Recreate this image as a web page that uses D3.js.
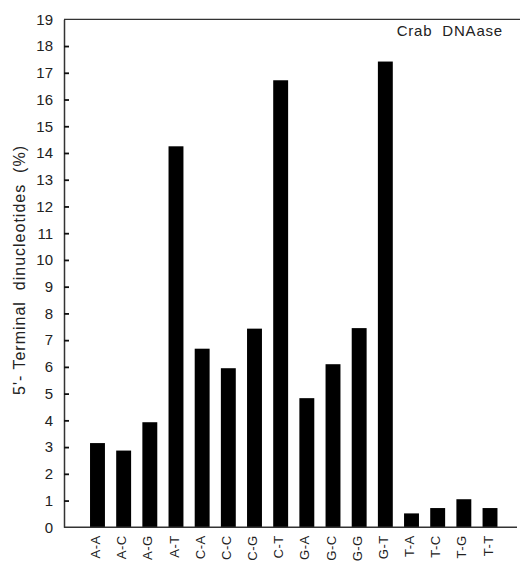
<!DOCTYPE html>
<html><head><meta charset="utf-8">
<script src="https://cdn.jsdelivr.net/npm/d3@7"></script>
<style>body{margin:0;background:#fff}svg{display:block}</style>
</head><body>
<script>
const categories = ["A-A","A-C","A-G","A-T","C-A","C-C","C-G","C-T","G-A","G-C","G-G","G-T","T-A","T-C","T-G","T-T"];
const values = [3.15, 2.87, 3.93, 14.25, 6.68, 5.95, 7.43, 16.72, 4.83, 6.1, 7.45, 17.42, 0.52, 0.72, 1.05, 0.72];
const yTicks = [0,1,2,3,4,5,6,7,8,9,10,11,12,13,14,15,16,17,18,19];
const yLabel = "5'- Terminal  dinucleotides  (%)";
const title = "Crab  DNAase";

(function(){
const W = 520, H = 570;
const mLeft = 64, mTop = 19.3, mBottom = 527.3, mRight = 520;
const svg = d3.select("body").append("svg").attr("width", W).attr("height", H);
const font = "'Liberation Sans', Arial, sans-serif";

const y = d3.scaleLinear().domain([0, 19]).range([mBottom, mTop]);
const x = d3.scaleBand().domain(categories).range([84.4, 503.1]).paddingInner(0.43).paddingOuter(0.215);

// bars
svg.append("g").selectAll("rect").data(values).join("rect")
  .attr("x", (d,i) => x(categories[i]))
  .attr("width", x.bandwidth())
  .attr("y", d => y(d))
  .attr("height", d => y(0) - y(d))
  .attr("fill", "#000");

// frame
const stroke = "#333";
svg.append("line").attr("x1", mLeft).attr("x2", mRight).attr("y1", mTop).attr("y2", mTop).attr("stroke", stroke).attr("stroke-width", 1.3);
svg.append("line").attr("x1", mLeft).attr("x2", 517).attr("y1", mBottom).attr("y2", mBottom).attr("stroke", stroke).attr("stroke-width", 1.5);

// y axis
const ya = svg.append("g").attr("transform", `translate(${mLeft},0)`)
  .call(d3.axisLeft(y).tickValues(yTicks).tickFormat(d3.format("d")).tickSizeInner(-5).tickSizeOuter(0).tickPadding(11));
ya.select(".domain").attr("stroke", stroke).attr("stroke-width", 1.5);
ya.selectAll(".tick line").attr("stroke", "#111").attr("stroke-width", 1.8)
  .attr("display", d => (d === 0 || d === 19) ? "none" : null);
ya.selectAll(".tick text").attr("font-family", font).attr("font-size", 15).attr("fill", "#222");

// x labels
const xa = svg.append("g").attr("transform", `translate(0,${mBottom})`)
  .call(d3.axisBottom(x).tickSize(0).tickPadding(0));
xa.select(".domain").remove();
xa.selectAll(".tick text")
  .attr("font-family", font).attr("font-size", 13).attr("fill", "#222")
  .attr("letter-spacing", 0.5)
  .attr("transform", "rotate(-90)")
  .attr("x", -8).attr("y", -2).attr("dy", "0.35em")
  .attr("text-anchor", "end");

// y label
svg.append("text").attr("transform", "translate(25,270) rotate(-90)")
  .attr("text-anchor", "middle").attr("font-family", font).attr("font-size", 16).attr("fill", "#222")
  .attr("letter-spacing", 1)
  .style("white-space", "pre")
  .text(yLabel);

// title
svg.append("text").attr("x", 503).attr("y", 36).attr("text-anchor", "end")
  .attr("font-family", font).attr("font-size", 15).attr("fill", "#222")
  .attr("letter-spacing", 0.8)
  .style("white-space", "pre").text(title);
})();
</script>
</body></html>
